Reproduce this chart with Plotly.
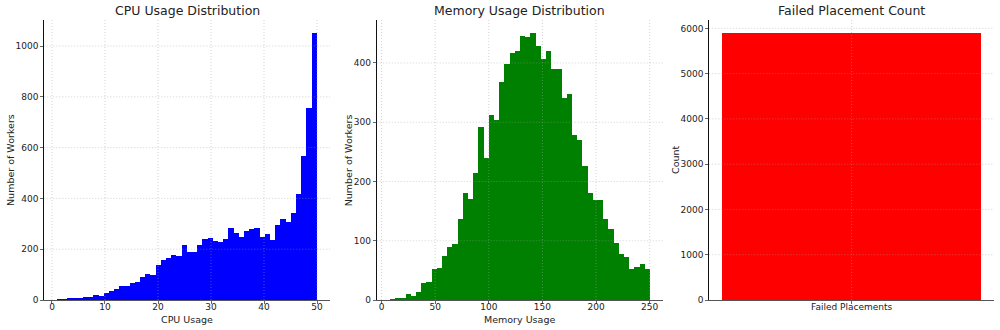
import plotly.graph_objects as go

# ---------------- data ----------------
cpu_bin_start = 1.0
cpu_bin_width = 0.98
cpu_counts = [2, 3, 4, 6, 7, 13, 13, 18, 15, 26, 35, 42, 57, 57, 68, 70, 92, 101, 100, 136,
              156, 166, 178, 174, 218, 189, 189, 217, 240, 244, 232, 229, 240, 284, 264, 248,
              272, 278, 282, 248, 260, 237, 294, 317, 307, 343, 418, 568, 757, 1050]

mem_bin_start = 7.6
mem_bin_width = 4.848
mem_counts = [1, 2, 4, 10, 7, 14, 29, 30, 53, 54, 75, 90, 95, 137, 180, 171, 215, 292, 240,
              312, 303, 368, 398, 417, 421, 445, 444, 450, 429, 406, 420, 390, 389, 341, 347,
              279, 270, 226, 181, 168, 169, 136, 119, 96, 78, 72, 53, 55, 61, 53]

fail_labels = ["Failed Placements"]
fail_counts = [5890]

cpu_xticks = [0, 10, 20, 30, 40, 50]
cpu_yticks = [0, 200, 400, 600, 800, 1000]
mem_xticks = [0, 50, 100, 150, 200, 250]
mem_yticks = [0, 100, 200, 300, 400]
fail_yticks = [0, 1000, 2000, 3000, 4000, 5000, 6000]

titles = ["CPU Usage Distribution", "Memory Usage Distribution", "Failed Placement Count"]
xtitles = ["CPU Usage", "Memory Usage", ""]
ytitles = ["Number of Workers", "Number of Workers", "Count"]

# ---------------- figure ----------------
W, H = 1000, 330
FONT = "DejaVu Sans"
TXT = "#222222"
GRID = "rgba(160,160,160,0.6)"

def px_x(p):
    return p / W

def px_y(p):
    return 1 - p / H

top_px, bot_px = 20, 300
panels = [(44.3, 330.0), (376.7, 662.7), (709.3, 994.0)]

fig = go.Figure()

cpu_centers = [cpu_bin_start + cpu_bin_width * (i + 0.5) for i in range(len(cpu_counts))]
mem_centers = [mem_bin_start + mem_bin_width * (i + 0.5) for i in range(len(mem_counts))]

fig.add_trace(go.Bar(x=cpu_centers, y=cpu_counts, width=cpu_bin_width,
                     marker=dict(color="#0000ff", line=dict(width=0)),
                     xaxis="x", yaxis="y", showlegend=False))
fig.add_trace(go.Bar(x=mem_centers, y=mem_counts, width=mem_bin_width,
                     marker=dict(color="#008000", line=dict(width=0)),
                     xaxis="x2", yaxis="y2", showlegend=False))
fig.add_trace(go.Bar(x=fail_labels, y=fail_counts, width=0.8,
                     marker=dict(color="#ff0000", line=dict(width=0)),
                     xaxis="x3", yaxis="y3", showlegend=False))

cpu_lo = cpu_bin_start
cpu_hi = cpu_bin_start + cpu_bin_width * len(cpu_counts)
cpu_pad = (cpu_hi - cpu_lo) * 0.05
mem_lo = mem_bin_start
mem_hi = mem_bin_start + mem_bin_width * len(mem_counts)
mem_pad = (mem_hi - mem_lo) * 0.05

xranges = [[cpu_lo - cpu_pad, cpu_hi + cpu_pad], [mem_lo - mem_pad, mem_hi + mem_pad], [-0.44, 0.44]]
yranges = [[0, max(cpu_counts) * 1.05], [0, max(mem_counts) * 1.05], [0, max(fail_counts) * 1.05]]
xtickvals = [cpu_xticks, mem_xticks, None]
ytickvals = [cpu_yticks, mem_yticks, fail_yticks]

ydom = [px_y(bot_px), px_y(top_px)]
common_ax = dict(showgrid=False, zeroline=False, showline=True, linewidth=1, automargin=False,
                 ticks="outside", ticklen=3, tickwidth=0.8, tickcolor="#666666",
                 tickfont=dict(family=FONT, size=9, color=TXT), fixedrange=True)

layout_axes = {}
for i, (l, r) in enumerate(panels):
    sx = "" if i == 0 else str(i + 1)
    xa = dict(common_ax, domain=[px_x(l), px_x(r)], range=xranges[i], anchor="y" + sx,
              linecolor="#555555", ticklabelstandoff=-5)
    if xtickvals[i] is not None:
        xa.update(tickmode="array", tickvals=xtickvals[i])
    else:
        xa.update(type="category")
    ya = dict(common_ax, domain=ydom, range=yranges[i], anchor="x" + sx,
              tickmode="array", tickvals=ytickvals[i], linecolor="#111111")
    layout_axes["xaxis" + sx] = xa
    layout_axes["yaxis" + sx] = ya

fig.update_layout(template="none")
fig.update_layout(**layout_axes)

# grid lines drawn above the bars (as in the reference)
shapes = []
grid_line = dict(color=GRID, width=0.8, dash="1px,2px")
for i in range(3):
    sx = "" if i == 0 else str(i + 1)
    xref, yref = "x" + sx, "y" + sx
    for v in ytickvals[i]:
        if v == 0:
            continue
        shapes.append(dict(type="line", xref=xref + " domain", yref=yref, x0=0, x1=1,
                           y0=v, y1=v, line=grid_line, layer="above"))
    xs = xtickvals[i] if xtickvals[i] is not None else [0]
    for v in xs:
        shapes.append(dict(type="line", xref=xref, yref=yref + " domain", x0=v, x1=v,
                           y0=0, y1=1, line=grid_line, layer="above"))

annotations = []
ytitle_x = [10, 348.3, 675]
for i, (l, r) in enumerate(panels):
    cx = px_x((l + r) / 2)
    annotations.append(dict(text=titles[i], x=cx, y=px_y(11), xref="paper", yref="paper",
                            showarrow=False, xanchor="center", yanchor="middle",
                            font=dict(family=FONT, size=12.5, color=TXT)))
    if xtitles[i]:
        annotations.append(dict(text=xtitles[i], x=cx, y=px_y(319.5), xref="paper", yref="paper",
                                showarrow=False, xanchor="center", yanchor="middle",
                                font=dict(family=FONT, size=9.5, color=TXT)))
    annotations.append(dict(text=ytitles[i], x=px_x(ytitle_x[i]), y=px_y((top_px + bot_px) / 2),
                            xref="paper", yref="paper", showarrow=False, textangle=-90,
                            xanchor="center", yanchor="middle",
                            font=dict(family=FONT, size=9.5, color=TXT)))

fig.update_layout(width=W, height=H, margin=dict(l=0, r=0, t=0, b=0, autoexpand=False),
                  autosize=False, paper_bgcolor="white", plot_bgcolor="white",
                  shapes=shapes, annotations=annotations, showlegend=False,
                  bargap=0, font=dict(family=FONT, color=TXT))

fig.write_html("out.html", config={"responsive": False, "displayModeBar": False})
